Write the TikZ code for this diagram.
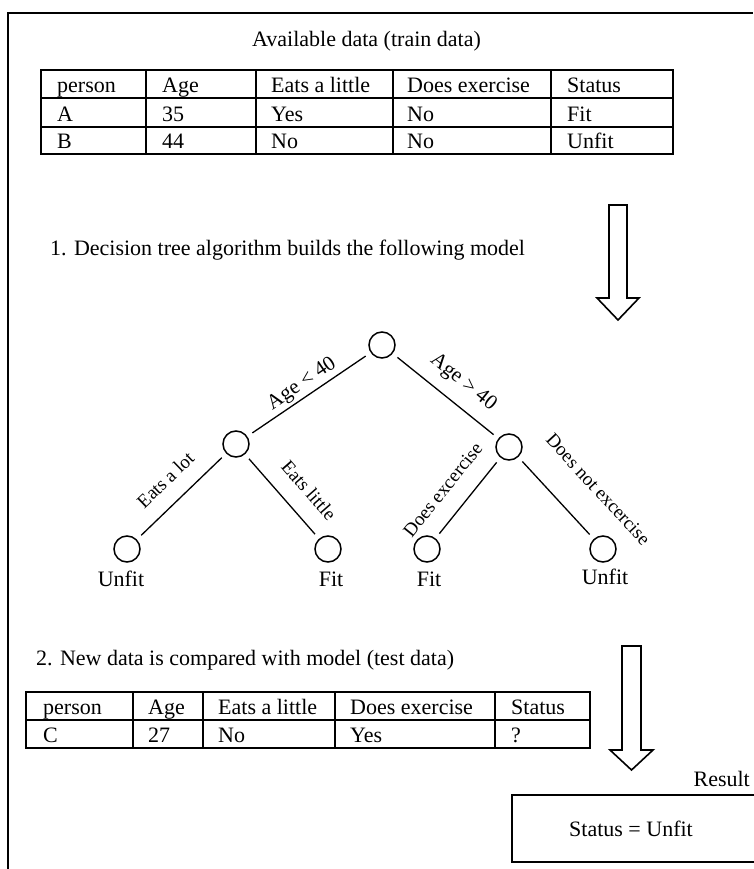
\documentclass[tikz,border=0pt]{standalone}
\usepackage{fontspec}
\setmainfont{Liberation Serif}
\begin{document}
\begin{tikzpicture}[x=1pt,y=-1pt,
  txt/.style={font=\fontsize{22}{26}\selectfont, inner sep=0pt},
  cell/.style={txt, anchor=base west},
  rule/.style={line width=1.6pt},
  thickrule/.style={line width=2.6pt},
  treenode/.style={circle, draw, line width=1.5pt, minimum size=26pt, inner sep=0pt},
  branch/.style={line width=1.3pt, shorten <=6pt, shorten >=6pt},
  elab/.style={font=\fontsize{19}{22}\selectfont, inner sep=0pt, sloped,
               text height=0.7em, text depth=0.2em},
  agelab/.style={elab, font=\fontsize{21}{24}\selectfont},
  blockarrow/.style={draw, line width=1.6pt, fill=white, line join=miter},
]
\useasboundingbox (0,0) rectangle (753,869);

% outer frame (left and top edges)
\draw[rule] (8,869) -- (8,13) -- (753,13);

% ---------- training data ----------
\node[cell] (title) at (252,47) {Available data (train data)};

\draw[rule] (41,70) rectangle (673,154);
\draw[rule] (41,98) -- (673,98);
\draw[rule] (41,127) -- (673,127);
\foreach \cx in {146,256,393,551} \draw[rule] (\cx,70) -- (\cx,154);

\node[cell] (h1) at (57,92.5)  {person};
\node[cell] (h2) at (162,92.5) {Age};
\node[cell] (h3) at (271,92.5) {Eats a little};
\node[cell] (h4) at (407,92.5) {Does exercise};
\node[cell] (h5) at (567,92.5) {Status};

\node[cell] (a1) at (57,121.5)  {A};
\node[cell] (a2) at (162,121.5) {35};
\node[cell] (a3) at (271,121.5) {Yes};
\node[cell] (a4) at (407,121.5) {No};
\node[cell] (a5) at (567,121.5) {Fit};

\node[cell] (b1) at (57,148.5)  {B};
\node[cell] (b2) at (162,148.5) {44};
\node[cell] (b3) at (271,148.5) {No};
\node[cell] (b4) at (407,148.5) {No};
\node[cell] (b5) at (567,148.5) {Unfit};

% ---------- step 1 ----------
\node[cell] (step1) at (50,255) {1. Decision tree algorithm builds the following model};

\draw[blockarrow] (609,205) -- (627,205) -- (627,298) -- (639,298) -- (618,320)
                  -- (597,298) -- (609,298) -- cycle;

% ---------- decision tree ----------
\node[treenode] (root) at (382,345) {};
\node[treenode] (ml)   at (236,444) {};
\node[treenode] (mr)   at (509,447) {};
\node[treenode] (ll)   at (127,549) {};
\node[treenode] (lr)   at (328,549) {};
\node[treenode] (rl)   at (427,549) {};
\node[treenode] (rr)   at (603,549) {};

\draw[branch] (ml) -- node[agelab, above=5pt, pos=0.5] {Age \textless{} 40} (root);
\draw[branch] (root) -- node[agelab, above=14pt, pos=0.54] {Age \textgreater{} 40} (mr);
\draw[branch] (ll) -- node[elab, above=14pt, pos=0.5] {Eats a lot} (ml);
\draw[branch] (ml) -- node[elab, above=15pt, pos=0.62] {Eats little} (lr);
\draw[branch] (rl) -- node[elab, above=16pt, pos=0.41] {Does excercise} (mr);
\draw[branch] (mr) -- node[elab, above=28pt, pos=0.70] {Does not excercise} (rr);

\node[txt, anchor=base] (ll-lab) at (121,586) {Unfit};
\node[txt, anchor=base] (lr-lab) at (331,586) {Fit};
\node[txt, anchor=base] (rl-lab) at (429,586) {Fit};
\node[txt, anchor=base] (rr-lab) at (605,584) {Unfit};

% ---------- step 2 ----------
\node[cell] (step2) at (36,665) {2. New data is compared with model (test data)};

\draw[rule] (26,692) rectangle (590,748);
\draw[thickrule] (26,720) -- (590,720);
\foreach \cx in {133,203,335,495} \draw[rule] (\cx,692) -- (\cx,748);

\node[cell] (t1) at (43,714.5)  {person};
\node[cell] (t2) at (148,714.5) {Age};
\node[cell] (t3) at (218,714.5) {Eats a little};
\node[cell] (t4) at (350,714.5) {Does exercise};
\node[cell] (t5) at (511,714.5) {Status};

\node[cell] (c1) at (43,742)  {C};
\node[cell] (c2) at (148,742) {27};
\node[cell] (c3) at (218,742) {No};
\node[cell] (c4) at (350,742) {Yes};
\node[cell] (c5) at (511,742) {?};

\draw[blockarrow] (622,646) -- (641,646) -- (641,750) -- (653,750) -- (631.5,770)
                  -- (610,750) -- (622,750) -- cycle;

% ---------- result ----------
\node[txt, anchor=base east] (reslab) at (750,786) {Result};
\draw[rule] (760,795) -- (512,795) -- (512,862) -- (760,862);
\draw[thickrule] (512,862) -- (760,862);
\node[txt] (result) at (631,829) {Status = Unfit};
\end{tikzpicture}
\end{document}
